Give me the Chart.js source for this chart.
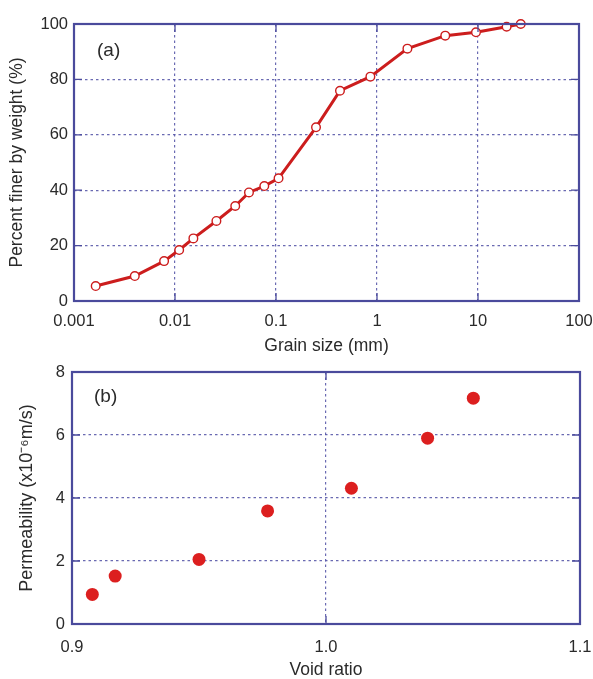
<!DOCTYPE html>
<html>
<head>
<meta charset="utf-8">
<script src="https://cdn.jsdelivr.net/npm/chart.js@4"></script>
<style>
  html, body { margin: 0; padding: 0; background: #fff; overflow: hidden; }
  #wrap { position: relative; width: 593px; height: 679px; }
  .panel { position: absolute; left: 0; width: 593px; }
  #pa { top: 0; height: 362px; }
  #pb { top: 352px; height: 327px; }
</style>
</head>
<body>
<div id="wrap">
  <div class="panel" id="pa"><canvas id="gradation"></canvas></div>
  <div class="panel" id="pb"><canvas id="perm"></canvas></div>
</div>
<script>
// Grain size distribution
const grainSize = [0.00164, 0.0040, 0.0078, 0.011, 0.0152, 0.0257, 0.0395, 0.054, 0.0766, 0.106,
                   0.249, 0.43, 0.86, 2.0, 4.74, 9.55, 19.2, 26.5];
const percentFiner = [5.4, 9.0, 14.4, 18.4, 22.6, 28.9, 34.3, 39.2, 41.5, 44.3,
                      62.7, 75.9, 81.0, 91.1, 95.8, 97.0, 99.0, 100];
const grainTicks = [0.001, 0.01, 0.1, 1, 10, 100];
const grainTickLabels = ['0.001', '0.01', '0.1', '1', '10', '100'];

// Permeability vs void ratio
const voidRatio = [0.908, 0.917, 0.950, 0.977, 1.010, 1.040, 1.058];
const permeability = [0.94, 1.52, 2.05, 3.59, 4.31, 5.9, 7.17];

const FONT = "'Liberation Sans', Arial, sans-serif";
const INK = '#2a2a2a';
const FRAME = '#4a4a9c';
const GRID = 'rgba(90, 90, 170, 0.9)';
const TICK_SIZE = 16.5;
const TITLE_SIZE = 17.5;

Chart.defaults.font.family = FONT;
Chart.defaults.color = INK;
Chart.defaults.animation = false;

// Frame, inward tick marks and panel label
const framePlugin = {
  id: 'frame',
  afterDatasetsDraw(chart) {
    const { ctx, chartArea: a } = chart;
    const len = 8;
    ctx.save();
    ctx.strokeStyle = FRAME;
    ctx.lineWidth = 1.3;
    const xs = chart.scales.x, ys = chart.scales.y;
    xs.ticks.forEach(t => {
      const px = xs.getPixelForValue(t.value);
      if (px <= a.left + 1 || px >= a.right - 1) return;
      ctx.beginPath();
      ctx.moveTo(px, a.bottom); ctx.lineTo(px, a.bottom - len);
      ctx.moveTo(px, a.top); ctx.lineTo(px, a.top + len);
      ctx.stroke();
    });
    ys.ticks.forEach(t => {
      const py = ys.getPixelForValue(t.value);
      if (py <= a.top + 1 || py >= a.bottom - 1) return;
      ctx.beginPath();
      ctx.moveTo(a.left, py); ctx.lineTo(a.left + len, py);
      ctx.moveTo(a.right, py); ctx.lineTo(a.right - len, py);
      ctx.stroke();
    });
    ctx.lineWidth = 2.2;
    ctx.strokeRect(a.left, a.top, a.right - a.left, a.bottom - a.top);
    ctx.restore();
  },
  afterDraw(chart, args, opts) {
    const { ctx, chartArea: a } = chart;
    ctx.save();
    ctx.font = '19px ' + FONT;
    ctx.fillStyle = INK;
    ctx.textBaseline = 'middle';
    ctx.fillText(opts.label, a.left + opts.dx, a.top + opts.dy);
    ctx.restore();
  }
};

const gridStyle = { color: GRID, lineWidth: 1.2, drawTicks: false };
// dotted grid lines, no axis line (the frame is drawn separately)
const borderStyle = { display: false, dash: [2.5, 3] };
// keep the edge tick labels from shrinking the plot area
const fitX = h => s => { s.height = h; s.paddingLeft = 0; s.paddingRight = 0; };

new Chart(document.getElementById('gradation'), {
  type: 'line',
  data: {
    datasets: [{
      data: grainSize.map((g, i) => ({ x: g, y: percentFiner[i] })),
      borderColor: '#cc1d1d',
      borderWidth: 3,
      pointRadius: 4.3,
      pointBorderWidth: 1.4,
      pointBackgroundColor: '#ffffff',
      pointBorderColor: '#cc1d1d',
      tension: 0,
      clip: false
    }]
  },
  options: {
    responsive: true,
    maintainAspectRatio: false,
    layout: { padding: { top: 24, right: 14, left: 0, bottom: 0 } },
    plugins: {
      legend: { display: false },
      tooltip: { enabled: false },
      frame: { label: '(a)', dx: 23, dy: 27 }
    },
    scales: {
      x: {
        type: 'logarithmic',
        min: 0.001,
        max: 100,
        afterBuildTicks: s => { s.ticks = grainTicks.map(v => ({ value: v })); },
        afterFit: fitX(61),
        ticks: {
          autoSkip: false,
          maxRotation: 0,
          padding: 11,
          font: { size: TICK_SIZE },
          color: INK,
          callback: v => { const i = grainTicks.indexOf(v); return i >= 0 ? grainTickLabels[i] : ''; }
        },
        grid: gridStyle,
        border: borderStyle,
        title: { display: true, text: 'Grain size (mm)', font: { size: TITLE_SIZE }, color: INK, padding: { top: 0, bottom: 5 } }
      },
      y: {
        min: 0,
        max: 100,
        afterFit: s => { s.width = 74; },
        ticks: { stepSize: 20, padding: 6, font: { size: TICK_SIZE }, color: INK },
        grid: gridStyle,
        border: borderStyle,
        title: { display: true, text: 'Percent finer by weight (%)', font: { size: TITLE_SIZE }, color: INK, padding: { top: 7, bottom: 0 } }
      }
    }
  },
  plugins: [framePlugin]
});

new Chart(document.getElementById('perm'), {
  type: 'scatter',
  data: {
    datasets: [{
      data: voidRatio.map((e, i) => ({ x: e, y: permeability[i] })),
      pointRadius: 6.5,
      pointBorderWidth: 0,
      pointBackgroundColor: '#dc1f1f',
      pointBorderColor: '#dc1f1f',
      clip: false
    }]
  },
  options: {
    responsive: true,
    maintainAspectRatio: false,
    layout: { padding: { top: 20, right: 13, left: 0, bottom: 0 } },
    plugins: {
      legend: { display: false },
      tooltip: { enabled: false },
      frame: { label: '(b)', dx: 22, dy: 25 }
    },
    scales: {
      x: {
        type: 'linear',
        min: 0.9,
        max: 1.1,
        afterFit: fitX(55),
        ticks: { stepSize: 0.1, padding: 14, font: { size: TICK_SIZE }, color: INK, callback: v => v.toFixed(1) },
        grid: gridStyle,
        border: borderStyle,
        title: { display: true, text: 'Void ratio', font: { size: TITLE_SIZE }, color: INK, padding: { top: 0, bottom: -2 } }
      },
      y: {
        min: 0,
        max: 8,
        afterFit: s => { s.width = 72; },
        ticks: { stepSize: 2, padding: 7, font: { size: TICK_SIZE }, color: INK },
        grid: gridStyle,
        border: borderStyle,
        title: { display: true, text: 'Permeability (x10\u207B\u2076m/s)', font: { size: 18 }, color: INK, padding: { top: 16, bottom: 0 } }
      }
    }
  },
  plugins: [framePlugin]
});
</script>
</body>
</html>
